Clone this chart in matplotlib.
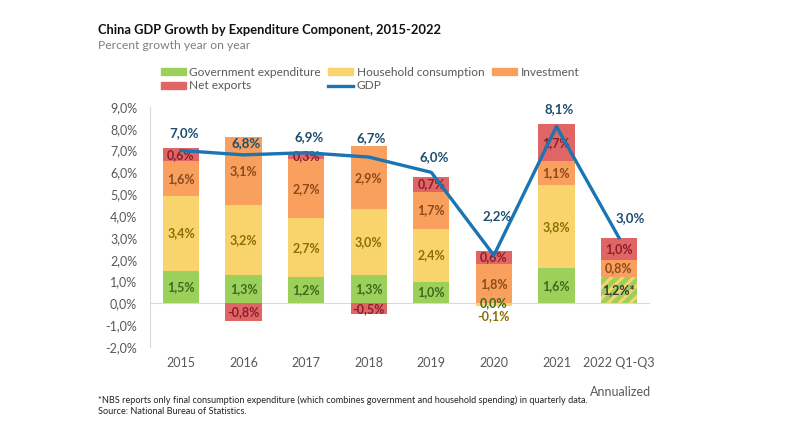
import numpy as np
import matplotlib
matplotlib.use("Agg")
import matplotlib.pyplot as plt
from matplotlib.lines import Line2D
from matplotlib.patches import Patch

plt.rcParams['font.family'] = ['Lato', 'DejaVu Sans']
plt.rcParams['hatch.linewidth'] = 2.2

years = ['2015', '2016', '2017', '2018', '2019', '2020', '2021', '2022 Q1-Q3']
government = [1.5, 1.3, 1.2, 1.3, 1.0, 0.0, 1.6, 1.2]
household = [3.4, 3.2, 2.7, 3.0, 2.4, -0.1, 3.8, 0.0]
investment = [1.6, 3.1, 2.7, 2.9, 1.7, 1.8, 1.1, 0.8]
net_exports = [0.6, -0.8, 0.3, -0.5, 0.7, 0.6, 1.7, 1.0]
gdp = [7.0, 6.8, 6.9, 6.7, 6.0, 2.2, 8.1, 3.0]

c_gov, c_hh, c_inv, c_net = '#9BD15B', '#F9D46C', '#F9A05E', '#E06666'
t_gov, t_hh, t_inv, t_net = '#3B6B1E', '#8A7000', '#8C4A1A', '#8B1E2B'
c_gdp = '#1A75B2'
grey = '#595959'

def fmt(v):
    return f"{v:.1f}%".replace('.', ',')

fig = plt.figure(figsize=(7.96, 4.29), dpi=100)
ax = fig.add_axes([0.188, 0.191, 0.629, 0.560])

x = np.arange(len(years))
w = 0.58
series = [(government, c_gov, t_gov), (household, c_hh, t_hh),
          (investment, c_inv, t_inv), (net_exports, c_net, t_net)]
pos_base = np.zeros(len(years))
neg_base = np.zeros(len(years))
for k, (vals, col, tcol) in enumerate(series):
    for i, v in enumerate(vals):
        if k == 1 and i == len(years) - 1:
            continue
        if v >= 0:
            b = pos_base[i]
            pos_base[i] += v
        else:
            b = neg_base[i]
            neg_base[i] += v
        hatched = (k == 0 and i == len(years) - 1)
        if hatched:
            ax.bar(x[i], v, w, bottom=b, color=c_gov, edgecolor=c_hh, hatch='///', linewidth=0)
        else:
            ax.bar(x[i], v, w, bottom=b, color=col, linewidth=0)
        label = fmt(v) + ('*' if hatched else '')
        ytxt = b + v / 2
        va = 'center'
        if v < 0 and abs(v) < 0.3:
            ytxt = b + v - 0.2
            va = 'top'
        ax.text(x[i], ytxt, label, ha='center', va=va, fontsize=9,
                color='#3a3a3a' if hatched else tcol, fontweight='bold')

ax.plot(x, gdp, color=c_gdp, linewidth=2.4, zorder=5)
offsets = [8, 4, 7, 9, 7, 24, 8, 10]
for i, v in enumerate(gdp):
    ax.annotate(fmt(v), (x[i], v), xytext=(2 if i != 7 else 8, offsets[i]),
                textcoords='offset points', ha='center', va='bottom',
                fontsize=9.5, fontweight='bold', color='#1D4E6E', zorder=6)

ax.set_xlim(-0.5, 7.5)
ax.set_ylim(-2, 9)
ax.set_yticks(np.arange(-2, 10, 1))
ax.set_yticklabels([fmt(t) for t in np.arange(-2, 10, 1)])
ax.set_xticks(x)
ax.set_xticklabels(years)
ax.tick_params(axis='both', length=0, labelsize=9, labelcolor=grey)
ax.tick_params(axis='x', pad=7)
ax.tick_params(axis='y', pad=9)
for s in ['top', 'right', 'bottom']:
    ax.spines[s].set_visible(False)
ax.spines['left'].set_color('#D9D9D9')
ax.axhline(0, color='#D9D9D9', linewidth=0.8, zorder=0)

handles = [Patch(color=c_gov), Patch(color=c_net), Patch(color=c_hh),
           Line2D([], [], color=c_gdp, linewidth=2.4), Patch(color=c_inv)]
labels = ['Government expenditure', 'Net exports', 'Household consumption', 'GDP', 'Investment']
fig.legend(handles, labels, ncol=3, loc='upper left', bbox_to_anchor=(0.196, 0.855),
           frameon=False, fontsize=8.6, labelcolor=grey, handlelength=2.1, handleheight=0.5,
           handletextpad=0.3, columnspacing=0.6, labelspacing=0.2, borderaxespad=0)

fig.text(0.123, 0.93, 'China GDP Growth by Expenditure Component, 2015-2022',
         fontsize=9.3, fontweight='bold', color='#111111', va='center')
fig.text(0.123, 0.893, 'Percent growth year on year', fontsize=8.7, color='#7f7f7f', va='center')
fig.text(0.818, 0.086, 'Annualized', fontsize=9, color=grey, ha='right', va='center')
fig.text(0.123, 0.068, '*NBS reports only final consumption expenditure (which combines government '
         'and household spending) in quarterly data.', fontsize=6.6, color='#222222', va='center')
fig.text(0.123, 0.041, 'Source: National Bureau of Statistics.', fontsize=6.6, color='#222222', va='center')

fig.savefig('out.png', dpi=100)
